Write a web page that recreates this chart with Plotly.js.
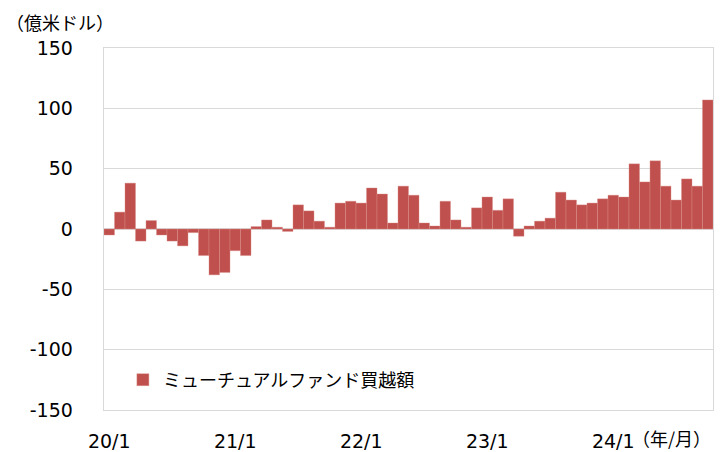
<!DOCTYPE html>
<html>
<head>
<meta charset="utf-8">
<script src="https://cdn.plot.ly/plotly-3.0.1.min.js"></script>
<style>
html, body { margin: 0; padding: 0; background: #fff; }
#chart { width: 728px; height: 452px; }
</style>
</head>
<body>
<div id="chart"></div>
<script>
// months 20/1 .. 24/10
var years = [20, 21, 22, 23, 24];
var months = [];
years.forEach(function (y) {
  for (var m = 1; m <= 12; m++) {
    if (y === 24 && m > 10) break;
    months.push(y + "/" + m);
  }
});

// ミューチュアルファンド買越額 (億米ドル)
var buyValues = [
  -5, 14, 38, -10, 7, -5, -10, -14, -3, -22, -38, -36,
  -18, -22, 2, 7.5, 1.5, -2, 20, 15, 6.5, 1.5, 21.5, 23,
  21.5, 34, 29, 5, 35.5, 28, 5, 2.5, 23, 7.5, 1.5, 17.5,
  26.5, 15.5, 25, -6, 2.5, 6.5, 9, 30.5, 24, 20, 21.5, 25,
  28, 26.5, 54, 39, 56.5, 35.5, 24, 41.5, 35.5, 107
];

var tickLabels = ["20/1", "21/1", "22/1", "23/1", "24/1"];
var yTicks = [-150, -100, -50, 0, 50, 100, 150];

// year boundaries sit half a category left of each January
var yearEdges = tickLabels.slice(1).map(function (l) { return months.indexOf(l) - 0.5; });

var gridCol = "#d9d9d9";
var tickFont = { family: "DejaVu Sans, Verdana, sans-serif", size: 19, color: "#000" };
var jpFont = { family: "Noto Sans CJK JP, sans-serif", size: 18, color: "#000" };

var trace = {
  type: "bar",
  x: months,
  y: buyValues,
  name: "ミューチュアルファンド買越額",
  marker: { color: "#c0504d", line: { color: "#d98e8b", width: 0.4 } },
  hoverinfo: "x+y"
};

var layout = {
  width: 728,
  height: 452,
  margin: { l: 104, r: 15, t: 48, b: 42 },
  paper_bgcolor: "#fff",
  plot_bgcolor: "#fff",
  bargap: 0,
  xaxis: {
    type: "category",
    range: [-0.5, months.length - 0.5],
    tickvals: tickLabels,
    ticktext: tickLabels,
    ticks: "",
    showgrid: false,
    showline: true,
    mirror: true,
    linecolor: gridCol,
    linewidth: 1.3,
    tickfont: tickFont,
    ticklabelstandoff: 14
  },
  xaxis2: {
    overlaying: "x",
    anchor: "y",
    range: [-0.5, months.length - 0.5],
    tickvals: yearEdges,
    showticklabels: false,
    showgrid: true,
    gridcolor: gridCol,
    gridwidth: 1.3,
    zeroline: false,
    ticks: ""
  },
  yaxis: {
    range: [-150, 150],
    tickvals: yTicks,
    ticktext: yTicks.map(String),
    ticks: "",
    showgrid: true,
    gridcolor: gridCol,
    gridwidth: 1.3,
    zeroline: true,
    zerolinecolor: gridCol,
    zerolinewidth: 1.3,
    showline: true,
    mirror: true,
    linecolor: gridCol,
    linewidth: 1.3,
    tickfont: tickFont,
    ticklabelstandoff: 26
  },
  showlegend: true,
  legend: {
    x: 0.031,
    y: 0.083,
    xanchor: "left",
    yanchor: "middle",
    bgcolor: "rgba(0,0,0,0)",
    font: jpFont,
    itemwidth: 30
  },
  annotations: [
    {
      text: "（億米ドル）",
      xref: "paper", yref: "paper",
      x: -0.165, y: 1.072,
      xanchor: "left", yanchor: "middle",
      showarrow: false,
      font: jpFont
    },
    {
      text: "（年/月）",
      xref: "paper", yref: "paper",
      x: 1.0, y: -0.077,
      xanchor: "right", yanchor: "middle",
      showarrow: false,
      font: jpFont
    }
  ]
};

Plotly.newPlot("chart", [trace], layout, { displayModeBar: false, staticPlot: true });
</script>
</body>
</html>
